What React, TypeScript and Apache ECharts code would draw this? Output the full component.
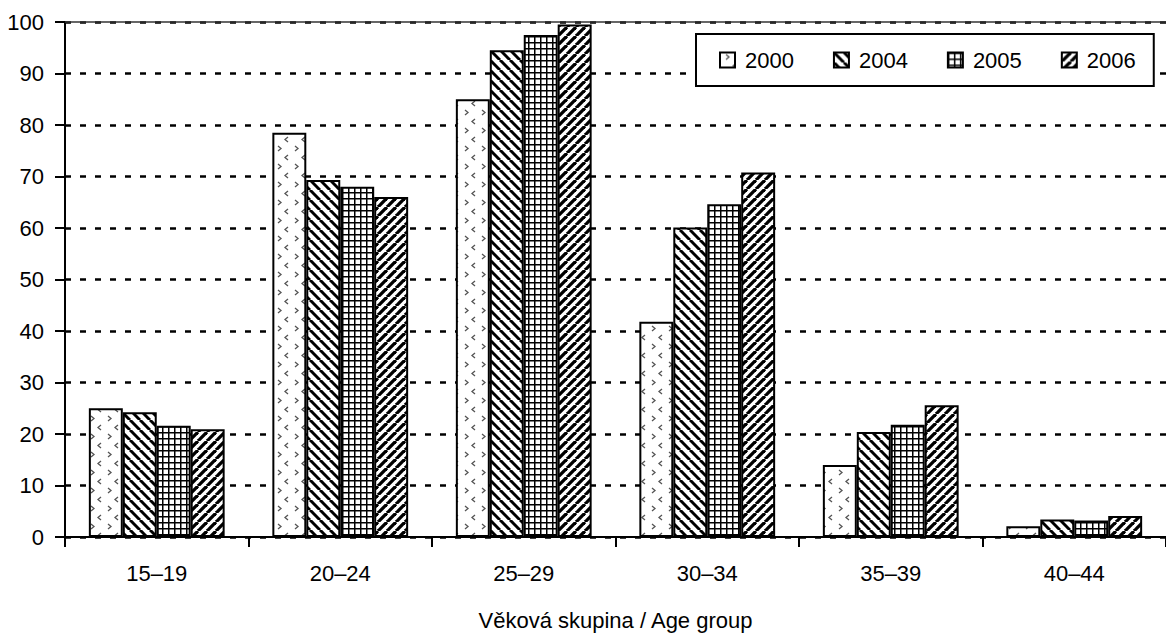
import React, { useEffect, useRef } from "react";
import * as echarts from "echarts";

const categories = ["15–19", "20–24", "25–29", "30–34", "35–39", "40–44"];
const years = ["2000", "2004", "2005", "2006"];
const s2000 = [25.0, 78.5, 85.0, 41.8, 14.0, 2.1];
const s2004 = [24.2, 69.3, 94.5, 60.1, 20.4, 3.4];
const s2005 = [21.6, 68.0, 97.5, 64.6, 21.8, 3.2];
const s2006 = [20.9, 66.0, 99.5, 70.8, 25.6, 4.1];
const seriesValues = [s2000, s2004, s2005, s2006];

const FONT = "'Liberation Sans', Arial, sans-serif";

function makePattern(w: number, h: number, draw: (ctx: CanvasRenderingContext2D) => void) {
  const c = document.createElement("canvas");
  c.width = w;
  c.height = h;
  const ctx = c.getContext("2d")!;
  ctx.fillStyle = "#ffffff";
  ctx.fillRect(0, 0, w, h);
  draw(ctx);
  return { image: c, repeat: "repeat", imageWidth: w, imageHeight: h } as any;
}

function patterns() {
  const p2000 = makePattern(17, 18, (ctx) => {
    ctx.strokeStyle = "#555";
    ctx.lineWidth = 1.3;
    ctx.beginPath();
    ctx.moveTo(6, 2);
    ctx.lineTo(9, 4.5);
    ctx.lineTo(6, 7);
    ctx.stroke();
    ctx.beginPath();
    ctx.moveTo(16, 11);
    ctx.lineTo(13, 13.5);
    ctx.lineTo(16, 16);
    ctx.stroke();
  });
  const p2004 = makePattern(10, 10, (ctx) => {
    ctx.strokeStyle = "#000";
    ctx.lineWidth = 3;
    for (let k = -1; k <= 1; k++) {
      ctx.beginPath();
      ctx.moveTo(k * 10, 0);
      ctx.lineTo(k * 10 + 10, 10);
      ctx.stroke();
    }
  });
  const p2005 = makePattern(6, 6, (ctx) => {
    ctx.fillStyle = "#000";
    ctx.fillRect(0, 0, 6, 1.5);
    ctx.fillRect(0, 0, 1.5, 6);
  });
  const p2006 = makePattern(9, 9, (ctx) => {
    ctx.strokeStyle = "#000";
    ctx.lineWidth = 3.3;
    for (let k = -1; k <= 1; k++) {
      ctx.beginPath();
      ctx.moveTo(k * 9, 9);
      ctx.lineTo(k * 9 + 9, 0);
      ctx.stroke();
    }
  });
  return [p2000, p2004, p2005, p2006];
}

export default function App() {
  const ref = useRef<HTMLDivElement>(null);
  useEffect(() => {
    if (!ref.current) return;
    const chart = echarts.init(ref.current, null, { renderer: "svg" });
    const pats = patterns();
    const series: any[] = years.map((y, i) => ({
      name: y,
      type: "bar",
      data: seriesValues[i],
      barGap: "0%",
      barCategoryGap: "26%",
      itemStyle: { color: pats[i], borderColor: "#000", borderWidth: 2 },
      emphasis: { disabled: true },
      ...(i === 0
        ? {
            markLine: {
              silent: true,
              symbol: "none",
              label: { show: false },
              lineStyle: { type: "solid", color: "#333", width: 1.5 },
              data: [{ yAxis: 100 }],
            },
          }
        : {}),
    }));
    chart.setOption({
      animation: false,
      textStyle: { fontFamily: FONT },
      grid: { left: 65, right: 0, top: 22, bottom: 99, containLabel: false },
      legend: {
        data: years,
        icon: "rect",
        left: 696,
        top: 34,
        width: 440,
        orient: "horizontal",
        itemWidth: 15,
        itemHeight: 15,
        itemGap: 39,
        padding: [15, 18, 15, 23],
        backgroundColor: "#fff",
        borderColor: "#000",
        borderWidth: 2,
        borderRadius: 0,
        textStyle: { fontFamily: FONT, fontSize: 22, color: "#000", padding: [0, 0, 0, 5] },
      },
      xAxis: {
        type: "category",
        data: categories,
        name: "Věková skupina / Age group",
        nameLocation: "middle",
        nameGap: 72,
        nameTextStyle: { fontFamily: FONT, fontSize: 22, color: "#000" },
        axisLine: { lineStyle: { color: "#000", width: 2 } },
        axisTick: { show: true, length: 10, lineStyle: { color: "#000", width: 2 } },
        axisLabel: { fontFamily: FONT, fontSize: 22, color: "#000", margin: 25 },
      },
      yAxis: {
        type: "value",
        min: 0,
        max: 100,
        interval: 10,
        axisLine: { show: true, lineStyle: { color: "#000", width: 2 } },
        axisTick: { show: true, length: 10, lineStyle: { color: "#000", width: 2 } },
        axisLabel: { fontFamily: FONT, fontSize: 22, color: "#000", margin: 21 },
        splitLine: { show: true, lineStyle: { color: "#000", width: 2.5, type: [6, 9] } },
      },
      series,
    });
    return () => chart.dispose();
  }, []);
  return (
    <div
      ref={ref}
      style={{ position: "fixed", left: 0, top: 0, width: 1166, height: 636, background: "#fff" }}
    />
  );
}
